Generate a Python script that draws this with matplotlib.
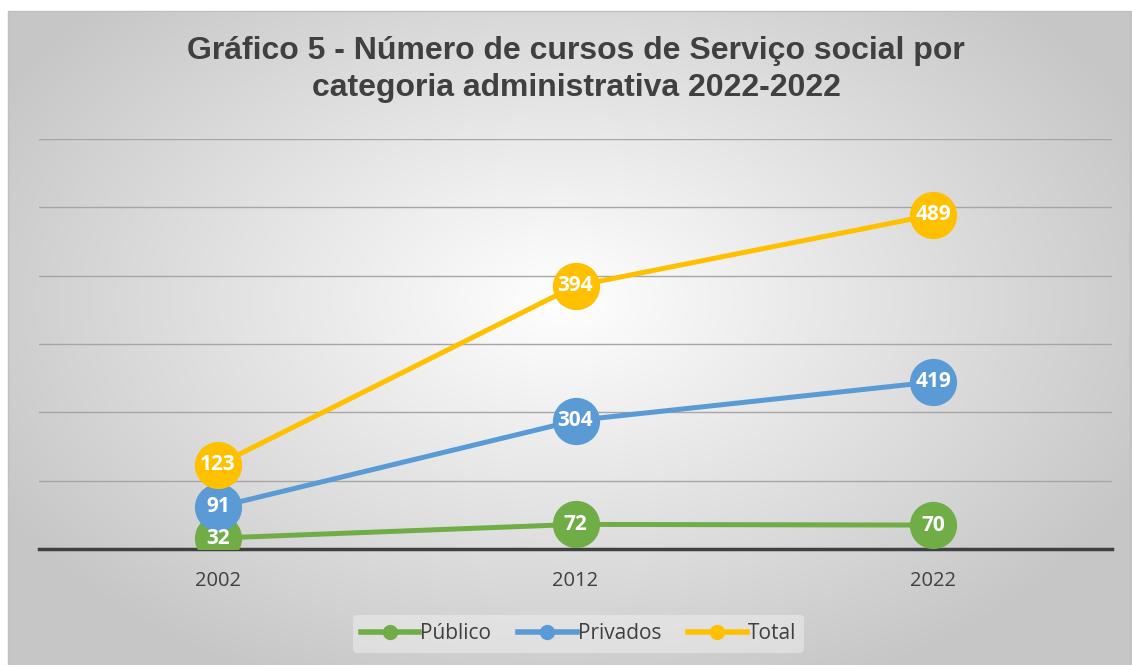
import numpy as np
import matplotlib.pyplot as plt
from matplotlib.patches import Rectangle

anos = ["2002", "2012", "2022"]
publico = [32, 72, 70]
privados = [91, 304, 419]
total = [123, 394, 489]

series = [("Público", publico, "#70ad47"),
          ("Privados", privados, "#5b9bd5"),
          ("Total", total, "#ffc000")]

plt.rcParams['font.family'] = ['Open Sans', 'DejaVu Sans']

fig = plt.figure(figsize=(11.32, 6.65), dpi=100)

# fundo com gradiente radial (estilo Excel)
bg = fig.add_axes([0, 0, 1, 1], zorder=-10)
yy, xx = np.mgrid[0:665, 0:1132]
r = np.sqrt(((xx - 560) / 640) ** 2 + ((yy - 300) / 420) ** 2)
r = np.clip(r, 0, 1)
shade = 1.0 - 0.22 * r
img = np.dstack([shade, shade, shade])
img[:11, :, :] = 1.0
img[:, :8, :] = 1.0
bg.imshow(img, aspect='auto', extent=[0, 1132, 665, 0])
bg.add_patch(Rectangle((8, 11), 1122, 660, fill=False, edgecolor="#c0c0c0", lw=1))
bg.set_xlim(0, 1132)
bg.set_ylim(665, 0)
bg.axis('off')

ax = fig.add_axes([39 / 1132, 116 / 665, (1112 - 39) / 1132, 410 / 665])
ax.set_facecolor('none')

x = np.arange(len(anos))
# gráfico de linhas empilhadas
acumulado = np.cumsum([publico, privados, total], axis=0)
for (nome, vals, cor), ys in zip(series, acumulado):
    ax.plot(x, ys, color=cor, lw=3.6, marker='o', ms=33, label=nome,
            solid_capstyle='round', zorder=3)
    for xi, yi, v in zip(x, ys, vals):
        ax.text(xi, yi, str(v), ha='center', va='center', color='white',
                fontsize=15, fontweight='bold', zorder=5)

ax.set_xlim(-0.5, 2.5)
ax.set_ylim(0, 1200)
ax.set_yticks(np.arange(200, 1201, 200))
ax.yaxis.grid(True, color="#a6a6a6", lw=1)
ax.set_axisbelow(True)
ax.tick_params(axis='y', length=0, labelleft=False)
ax.set_xticks(x)
ax.set_xticklabels(anos, fontsize=14.5, color="#404040")
ax.tick_params(axis='x', length=0, pad=16)
for s in ['top', 'right', 'left']:
    ax.spines[s].set_visible(False)
ax.spines['bottom'].set_color("#404040")
ax.spines['bottom'].set_linewidth(2.5)

fig.text(0.509, 0.895, "Gráfico 5 - Número de cursos de Serviço social por\ncategoria administrativa 2022-2022",
         ha='center', va='center', fontsize=23, fontweight='bold', color="#404040",
         family=['Liberation Sans', 'DejaVu Sans'], linespacing=1.3)

handles = [plt.Line2D([], [], color=c, lw=4, marker='o', ms=10) for _, _, c in series]
leg = fig.legend(handles, [n for n, _, _ in series], loc='center', bbox_to_anchor=(0.511, 0.047),
                 ncol=3, frameon=True, fontsize=15, handlelength=2.8, handletextpad=0.05,
                 columnspacing=1.3, borderpad=0.4)
leg.get_frame().set_facecolor("#f4f4f4")
leg.get_frame().set_edgecolor("none")
leg.get_frame().set_alpha(0.45)
for t in leg.get_texts():
    t.set_color("#404040")

fig.savefig("out.png", dpi=100)
